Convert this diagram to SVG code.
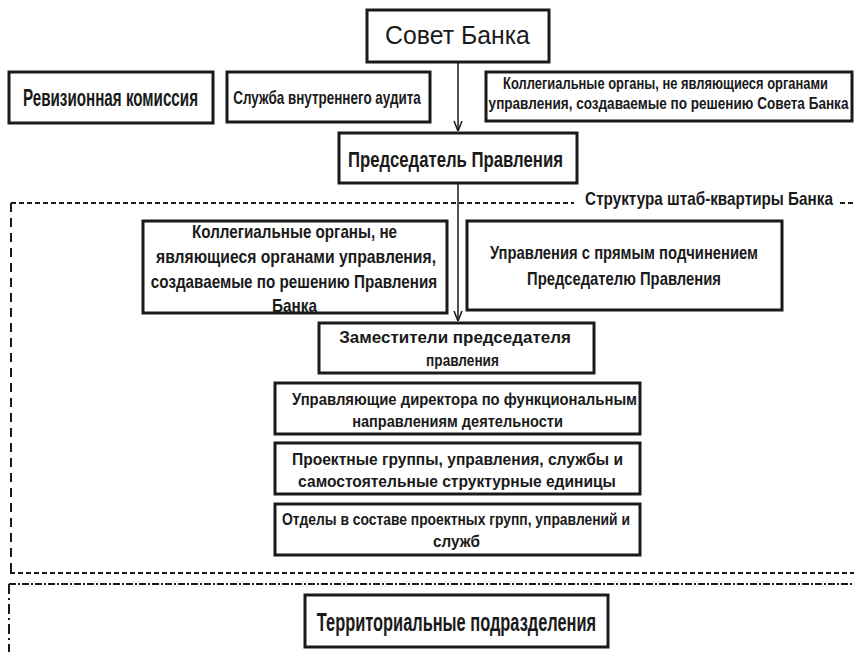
<svg xmlns="http://www.w3.org/2000/svg" width="854" height="652" viewBox="0 0 854 652">
<style>
  .box { fill: #ffffff; stroke: #1a1a1a; stroke-width: 3; }
  .t { font-family: "Liberation Sans", Arial, sans-serif; font-weight: bold; fill: #1a1a1a; text-anchor: middle; }
  .tn { font-family: "Liberation Sans", Arial, sans-serif; font-weight: normal; fill: #1a1a1a; text-anchor: middle; }
  .conn { stroke: #1a1a1a; stroke-width: 1.5; fill: none; }
  .dot { stroke: #1a1a1a; stroke-width: 2; fill: none; stroke-dasharray: 5 3; }
  .dashv { stroke: #1a1a1a; stroke-width: 2; fill: none; stroke-dasharray: 9 6; }
  .dashdot { stroke: #1a1a1a; stroke-width: 2; fill: none; stroke-dasharray: 7 2 2 2; }
  .dashdotv { stroke: #1a1a1a; stroke-width: 2; fill: none; stroke-dasharray: 10 4 2 4; }
</style>
<defs>
  <marker id="arr" viewBox="0 0 10 10" refX="10" refY="5" markerWidth="10" markerHeight="10" markerUnits="userSpaceOnUse" orient="auto">
    <path d="M0,1 L10,5 L0,9" fill="none" stroke="#1a1a1a" stroke-width="1.5"/>
  </marker>
</defs>
<rect x="0" y="0" width="854" height="652" fill="#ffffff"/>

<g id="frames">
  <line class="dot" x1="11" y1="203" x2="574" y2="203"/>
  <line class="dot" x1="840" y1="203" x2="854" y2="203"/>
  <line class="dashv" x1="11" y1="203" x2="11" y2="573"/>
  <line class="dot" x1="10" y1="573" x2="854" y2="573"/>
  <line class="dashdot" x1="9" y1="584" x2="854" y2="584"/>
  <line class="dashdotv" x1="9" y1="584" x2="9" y2="652"/>
  <text class="t" transform="translate(709,205) scale(0.7,1)" font-size="19" textLength="354" lengthAdjust="spacingAndGlyphs">Структура штаб-квартиры Банка</text>
</g>

<g id="connectors">
  <line class="conn" x1="458" y1="62" x2="458" y2="131" marker-end="url(#arr)"/>
  <line class="conn" x1="458" y1="183" x2="458" y2="321" marker-end="url(#arr)"/>
</g>

<g id="sovet">
  <rect class="box" x="367" y="10" width="182" height="52"/>
  <text class="tn" transform="translate(457.5,44) scale(0.8,1)" font-size="26" textLength="181" lengthAdjust="spacingAndGlyphs">Совет Банка</text>
</g>

<g id="revizion">
  <rect class="box" x="9" y="72" width="204" height="51"/>
  <text class="t" transform="translate(110.5,106) scale(0.7,1)" font-size="24" textLength="250" lengthAdjust="spacingAndGlyphs">Ревизионная комиссия</text>
</g>

<g id="audit">
  <rect class="box" x="227" y="72" width="203" height="50"/>
  <text class="t" transform="translate(327,104) scale(0.7,1)" font-size="18" textLength="268" lengthAdjust="spacingAndGlyphs">Служба внутреннего аудита</text>
</g>

<g id="kollegial-sovet">
  <rect class="box" x="486" y="72" width="366" height="49"/>
  <text class="t" transform="translate(665.5,89) scale(0.7,1)" font-size="16" textLength="464" lengthAdjust="spacingAndGlyphs">Коллегиальные органы, не являющиеся органами</text>
  <text class="t" transform="translate(668.5,109) scale(0.7,1)" font-size="16" textLength="514" lengthAdjust="spacingAndGlyphs">управления, создаваемые по решению Совета Банка</text>
</g>

<g id="predsedatel">
  <rect class="box" x="339" y="133" width="238" height="50"/>
  <text class="t" transform="translate(455.5,167) scale(0.7,1)" font-size="22" textLength="307" lengthAdjust="spacingAndGlyphs">Председатель Правления</text>
</g>

<g id="kollegial-pravlenie">
  <rect class="box" x="143" y="221" width="304" height="92"/>
  <text class="t" transform="translate(294.5,238) scale(0.7,1)" font-size="18" textLength="293" lengthAdjust="spacingAndGlyphs">Коллегиальные органы, не</text>
  <text class="t" transform="translate(296,263) scale(0.7,1)" font-size="18" textLength="400" lengthAdjust="spacingAndGlyphs">являющиеся органами управления,</text>
  <text class="t" transform="translate(294,288) scale(0.7,1)" font-size="18" textLength="409" lengthAdjust="spacingAndGlyphs">создаваемые по решению Правления</text>
  <text class="t" transform="translate(294.5,312) scale(0.7,1)" font-size="18" textLength="64" lengthAdjust="spacingAndGlyphs">Банка</text>
</g>

<g id="upravleniya-pryamye">
  <rect class="box" x="467" y="221" width="315" height="89"/>
  <text class="t" transform="translate(624,259) scale(0.7,1)" font-size="18" textLength="383" lengthAdjust="spacingAndGlyphs">Управления с прямым подчинением</text>
  <text class="t" transform="translate(624,285) scale(0.7,1)" font-size="18" textLength="277" lengthAdjust="spacingAndGlyphs">Председателю Правления</text>
</g>

<g id="zamestiteli">
  <rect class="box" x="319" y="323" width="275" height="50"/>
  <text class="t" transform="translate(455,343) scale(0.7,1)" font-size="17" textLength="331" lengthAdjust="spacingAndGlyphs">Заместители председателя</text>
  <text class="t" transform="translate(462.5,366) scale(0.7,1)" font-size="17" textLength="104" lengthAdjust="spacingAndGlyphs">правления</text>
</g>

<g id="direktora">
  <rect class="box" x="275" y="383" width="365" height="51"/>
  <text class="t" transform="translate(464.5,405) scale(0.7,1)" font-size="16" textLength="493" lengthAdjust="spacingAndGlyphs">Управляющие директора по функциональным</text>
  <text class="t" transform="translate(457.5,427) scale(0.7,1)" font-size="16" textLength="301" lengthAdjust="spacingAndGlyphs">направлениям деятельности</text>
</g>

<g id="proektnye">
  <rect class="box" x="275" y="443" width="365" height="51"/>
  <text class="t" transform="translate(457.5,465) scale(0.7,1)" font-size="16" textLength="473" lengthAdjust="spacingAndGlyphs">Проектные группы, управления, службы и</text>
  <text class="t" transform="translate(457,487) scale(0.7,1)" font-size="16" textLength="454" lengthAdjust="spacingAndGlyphs">самостоятельные структурные единицы</text>
</g>

<g id="otdely">
  <rect class="box" x="275" y="504" width="365" height="51"/>
  <text class="t" transform="translate(456,525) scale(0.7,1)" font-size="16" textLength="497" lengthAdjust="spacingAndGlyphs">Отделы в составе проектных групп, управлений и</text>
  <text class="t" transform="translate(456.5,547) scale(0.7,1)" font-size="16" textLength="67" lengthAdjust="spacingAndGlyphs">служб</text>
</g>

<g id="territorial">
  <rect class="box" x="305" y="595" width="303" height="52"/>
  <text class="t" transform="translate(456.5,631) scale(0.7,1)" font-size="25" textLength="399" lengthAdjust="spacingAndGlyphs">Территориальные подразделения</text>
</g>
</svg>
